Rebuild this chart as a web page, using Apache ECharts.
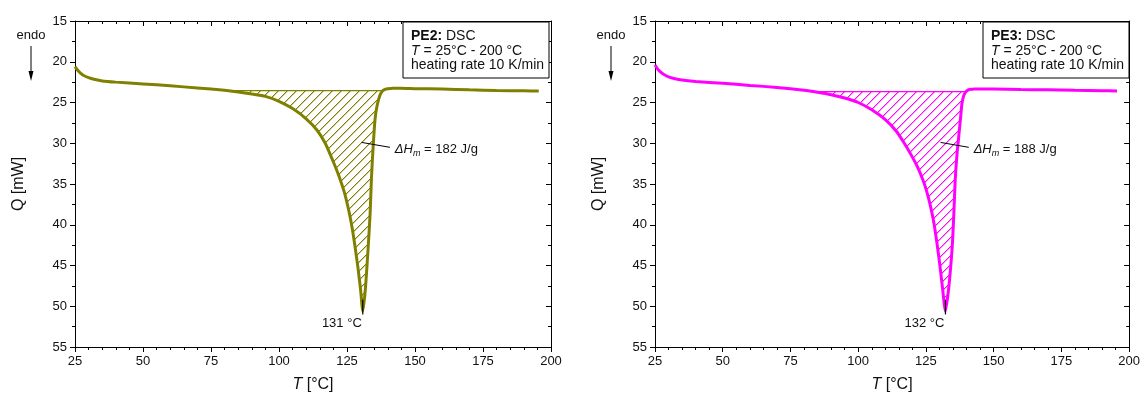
<!DOCTYPE html>
<html><head><meta charset="utf-8">
<script src="https://cdn.jsdelivr.net/npm/echarts@6/dist/echarts.min.js"></script>
<style>html,body{margin:0;padding:0;background:#fff}#c{width:1143px;height:398px}</style>
</head><body><div id="c"></div>
<script>
// ---- data ----
const xTickValues = [25, 50, 75, 100, 125, 150, 175, 200];
const yTickValues = [15, 20, 25, 30, 35, 40, 45, 50, 55];

const pe2T = [25,26,27,28,30,32,35,40,50,60,70,80,85,90,95,100,105,110,114,117,120,122,124,125,126,127,128,129,130,130.8,131.5,132,132.8,133.5,134,134.6,135.3,136,137,138,139,140,142,145,150,160,170,180,190,195.5];
const pe2Q = [20.6,21.05,21.4,21.65,21.95,22.15,22.35,22.5,22.72,22.95,23.22,23.5,23.7,23.95,24.25,24.85,25.75,27.0,28.4,30.0,32.3,34.0,36.0,37.3,38.8,40.6,42.8,45.2,48.0,50.6,48.8,46.8,42.7,38.6,34.2,30.5,27.1,25.5,24.2,23.6,23.4,23.3,23.25,23.25,23.3,23.35,23.45,23.52,23.57,23.6];
const pe2BaseT = [80.5, 138.2];
const pe2BaseQ = [23.55, 23.55];
const pe2PeakT = 130.8, pe2PeakLabel = '131 °C', pe2Enthalpy = '182 J/g';

const pe3T = [25,26,27,28,30,32,35,40,50,60,70,80,85,90,95,100,105,110,114,117,120,122,124,125,126,127,128,129,130,131,132.2,133,133.7,134.7,135.3,135.8,136.5,137.1,137.8,138.3,139,140,141,143,145,150,160,170,180,190,195.5];
const pe3Q = [20.4,20.9,21.25,21.5,21.85,22.05,22.25,22.42,22.65,22.9,23.15,23.5,23.75,24.05,24.45,25.0,25.9,27.1,28.5,30.0,31.7,33.0,34.6,35.6,36.8,38.2,39.9,42.1,44.6,47.4,50.6,48.9,46.8,42.7,38.6,34.5,31.2,29.2,26.8,25.1,24.1,23.6,23.4,23.35,23.35,23.35,23.4,23.45,23.5,23.55,23.6];
const pe3BaseT = [83, 139.8];
const pe3BaseQ = [23.67, 23.67];
const pe3PeakT = 132.2, pe3PeakLabel = '132 °C', pe3Enthalpy = '188 J/g';

const panels = [
  {name:'PE2', color:'#808000', T:pe2T, Q:pe2Q, bT:pe2BaseT, bQ:pe2BaseQ, pk:pe2PeakT, pkl:pe2PeakLabel, dh:pe2Enthalpy},
  {name:'PE3', color:'#ff00ff', T:pe3T, Q:pe3Q, bT:pe3BaseT, bQ:pe3BaseQ, pk:pe3PeakT, pkl:pe3PeakLabel, dh:pe3Enthalpy}
];

const FONT = '"Liberation Sans", Arial, Helvetica, sans-serif';
const TXT = '#111';

// crisp "/" hatch tile: one full pixel plus a softer neighbour per row
function hatchCanvas(color){
  const s = 9, c = document.createElement('canvas');
  c.width = s; c.height = s;
  const g = c.getContext('2d');
  g.fillStyle = color;
  for (let i=0;i<s;i++){
    g.globalAlpha = 1;
    g.fillRect(i, s-1-i, 1, 1);
    g.globalAlpha = 0.4;
    g.fillRect((i+1)%s, s-1-i, 1, 1);
  }
  return c;
}

const grids = [
  {left:75, right:592, top:21, bottom:51},
  {left:655, right:12, top:21, bottom:51}
];

const xAxes = [], yAxes = [], series = [];
panels.forEach((p, gi) => {
  xAxes.push({
    gridIndex: gi, type:'value', min:25, max:200, interval:25, position:'bottom',
    axisLine:{show:true, onZero:false, lineStyle:{color:'#000', width:1}},
    axisTick:{show:true, length:5, inside:false, lineStyle:{color:'#000'}},
    minorTick:{show:true, splitNumber:5, length:3, lineStyle:{color:'#000'}},
    axisLabel:{show:true, fontSize:13, color:TXT, fontFamily:FONT, margin:8},
    splitLine:{show:false},
    name:'{i|T} [°C]', nameLocation:'middle', nameGap:30,
    nameTextStyle:{fontSize:16, color:TXT, fontFamily:FONT,
      rich:{i:{fontStyle:'italic', fontSize:16, color:TXT, fontFamily:FONT}}}
  });
  xAxes.push({
    gridIndex: gi, type:'value', min:25, max:200, interval:25, position:'top',
    axisLine:{show:true, onZero:false, lineStyle:{color:'#000', width:1}},
    axisTick:{show:true, length:5, inside:true, lineStyle:{color:'#000'}},
    minorTick:{show:true, splitNumber:5, length:3, lineStyle:{color:'#000'}},
    axisLabel:{show:false}, splitLine:{show:false}
  });
  yAxes.push({
    gridIndex: gi, type:'value', min:15, max:55, interval:5, inverse:true, position:'left',
    axisLine:{show:true, onZero:false, lineStyle:{color:'#000', width:1}},
    axisTick:{show:true, length:5, inside:false, lineStyle:{color:'#000'}},
    minorTick:{show:true, splitNumber:2, length:3, lineStyle:{color:'#000'}},
    axisLabel:{show:true, fontSize:13, color:TXT, fontFamily:FONT, margin:8},
    splitLine:{show:false},
    name:'Q [mW]', nameLocation:'middle', nameGap:48, nameRotate:90,
    nameTextStyle:{fontSize:16, color:TXT, fontFamily:FONT}
  });
  yAxes.push({
    gridIndex: gi, type:'value', min:15, max:55, interval:5, inverse:true, position:'right',
    axisLine:{show:true, onZero:false, lineStyle:{color:'#000', width:1}},
    axisTick:{show:true, length:5, inside:true, lineStyle:{color:'#000'}},
    minorTick:{show:true, splitNumber:2, length:3, lineStyle:{color:'#000'}},
    axisLabel:{show:false}, splitLine:{show:false}
  });
  const xi = gi*2, yi = gi*2;
  series.push({
    type:'line', xAxisIndex:xi, yAxisIndex:yi, z:2, silent:true,
    data:p.bT.map((t,i)=>[t, p.bQ[i]]),
    showSymbol:false, lineStyle:{color:p.color, width:1.2}
  });
  series.push({
    type:'line', xAxisIndex:xi, yAxisIndex:yi, z:3, silent:true,
    data:p.T.map((t,i)=>[t, p.Q[i]]),
    showSymbol:false, smooth:0.2, lineStyle:{color:p.color, width:3}
  });
});

const chart = echarts.init(document.getElementById('c'), null, {renderer:'canvas', width:1143, height:398});
chart.setOption({
  animation:false, backgroundColor:'#fff',
  grid:grids, xAxis:xAxes, yAxis:yAxes, series:series
});

function buildGraphic(){
  const els = [];
  panels.forEach((p, gi) => {
    const g = grids[gi];
    const px = (t, q) => chart.convertToPixel({xAxisIndex:gi*2, yAxisIndex:gi*2}, [t, q]);
    const gRight = 1143 - g.right;
    // hatched melting area (between curve and integration baseline)
    const poly = [px(p.bT[0], p.bQ[0])];
    const slope = (p.bQ[1]-p.bQ[0])/(p.bT[1]-p.bT[0]);
    for (let i=0;i<p.T.length;i++){
      const t = p.T[i];
      if (t > p.bT[0] && t < p.bT[1]){
        const b = p.bQ[0] + slope*(t-p.bT[0]);
        poly.push(px(t, Math.max(p.Q[i], b)));
      }
    }
    poly.push(px(p.bT[1], p.bQ[1]));
    els.push({type:'polygon', z:1, silent:true, shape:{points:poly},
      style:{fill:{image:hatchCanvas(p.color), repeat:'repeat'}, stroke:null}});
    // info box
    const bx = gRight - 148, by = g.top + 1, bw = 146, bh = 56;
    els.push({type:'rect', z:50, shape:{x:bx, y:by, width:bw, height:bh},
      style:{fill:'#fff', stroke:'#000', lineWidth:1}});
    const lines = [
      '{b|' + p.name + ':} DSC',
      '{i|T} = 25°C - 200 °C',
      'heating rate 10 K/min'
    ];
    lines.forEach((ln, k) => {
      els.push({type:'text', z:51, x:bx+8, y:by+14.5+k*14.5,
        style:{text:ln, fill:TXT, fontSize:14, fontFamily:FONT,
          align:'left', verticalAlign:'middle', textAlign:'left', textVerticalAlign:'middle',
          rich:{b:{fontWeight:'bold', fontSize:14, fontFamily:FONT, fill:TXT},
                i:{fontStyle:'italic', fontSize:14, fontFamily:FONT, fill:TXT}}}});
    });
    // endo arrow
    const ax = g.left - 44;
    els.push({type:'text', z:51, x:ax, y:35,
      style:{text:'endo', fill:TXT, fontSize:13, fontFamily:FONT, align:'center', verticalAlign:'middle', textAlign:'center', textVerticalAlign:'middle'}});
    els.push({type:'line', z:51, shape:{x1:ax, y1:46, x2:ax, y2:74}, style:{stroke:'#000', lineWidth:1}});
    els.push({type:'polygon', z:51, shape:{points:[[ax-2.5,71],[ax+2.5,71],[ax,81]]}, style:{fill:'#000'}});
    // enthalpy annotation
    const a0 = px(130.4, 29.9), a1 = px(140.8, 30.5), at = px(142.6, 30.7);
    els.push({type:'line', z:51, shape:{x1:a0[0], y1:a0[1], x2:a1[0], y2:a1[1]}, style:{stroke:'#000', lineWidth:1}});
    els.push({type:'text', z:51, x:at[0], y:at[1],
      style:{text:'{i|ΔH}{s|m}{n| = ' + p.dh + '}', fill:TXT, fontSize:13, fontFamily:FONT,
        align:'left', verticalAlign:'middle', textAlign:'left', textVerticalAlign:'middle',
        rich:{i:{fontStyle:'italic', fontSize:13, lineHeight:18, fontFamily:FONT, fill:TXT},
              s:{fontStyle:'italic', fontSize:9, lineHeight:8, verticalAlign:'bottom', fontFamily:FONT, fill:TXT},
              n:{fontSize:13, lineHeight:18, fontFamily:FONT, fill:TXT}}}});
    // peak marker
    const k0 = px(p.pk, 49.2), k1 = px(p.pk, 51.0), kt = px(p.pk, 52.1);
    els.push({type:'line', z:51, shape:{x1:k0[0], y1:k0[1], x2:k1[0], y2:k1[1]}, style:{stroke:'#000', lineWidth:1.2}});
    els.push({type:'text', z:51, x:kt[0]-1, y:kt[1],
      style:{text:p.pkl, fill:TXT, fontSize:13, fontFamily:FONT, align:'right', verticalAlign:'middle', textAlign:'right', textVerticalAlign:'middle'}});
  });
  return els;
}
chart.setOption({graphic:{elements:buildGraphic()}});
</script>
</body></html>
